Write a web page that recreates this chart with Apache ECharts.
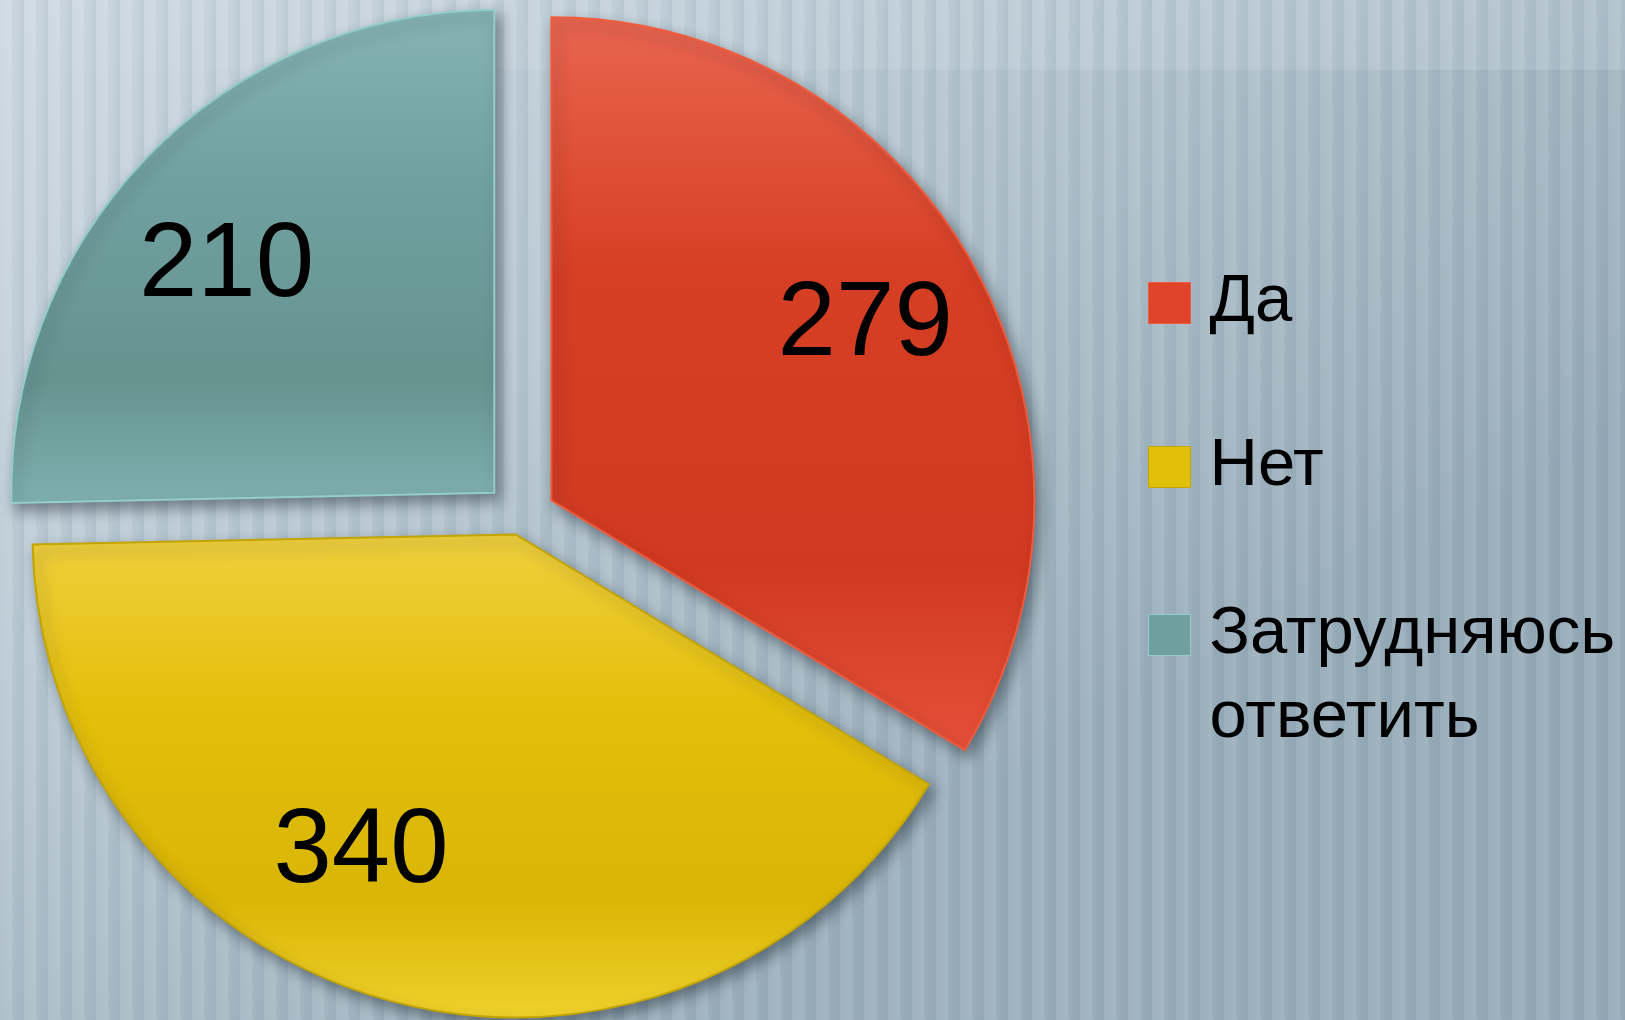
<!DOCTYPE html>
<html>
<head>
<meta charset="utf-8">
<script src="https://cdn.jsdelivr.net/npm/echarts@6/dist/echarts.min.js"></script>
<style>
  html, body { margin: 0; padding: 0; }
  #chart { width: 1625px; height: 1020px; }
</style>
</head>
<body>
<div id="chart"></div>
<script>
// data
const categories = ['Да', 'Нет', 'Затрудняюсь ответить'];
const values = [279, 340, 210];

// look
const sliceColors = [
  ['#e9654f', '#d63f24', '#d13a20', '#e4503a'],
  ['#efcf3e', '#e4c00c', '#d9b505', '#efd12c'],
  ['#86b4b4', '#70a0a0', '#65948f', '#7fb0b0']
];
const borderColors = ['#f25a3c', '#c4a400', '#95cccc'];
const iconColors = ['#dd4429', '#e2c00a', '#6f9f9f'];
const labelNudge = [[2, 2], [-62, -27], [-12, 25]]; // powerpoint doesn't put labels on the bisector
const R = 483;
const CENTER = [520, 518];

const chart = echarts.init(document.getElementById('chart'));

// striped background
function makeBackground(w, h) {
  const c = document.createElement('canvas');
  c.width = w; c.height = h;
  const ctx = c.getContext('2d');
  const g = ctx.createLinearGradient(0, 0, w * 0.35, h);
  g.addColorStop(0, '#cdd9e1');
  g.addColorStop(0.5, '#b9c9d3');
  g.addColorStop(1, '#9db1be');
  ctx.fillStyle = g;
  ctx.fillRect(0, 0, w, h);
  // darker patch upper right
  const g2 = ctx.createLinearGradient(0, 0, w, 0);
  g2.addColorStop(0, 'rgba(120,145,160,0)');
  g2.addColorStop(0.7, 'rgba(120,145,160,0.12)');
  g2.addColorStop(1, 'rgba(120,145,160,0.22)');
  ctx.fillStyle = g2;
  ctx.fillRect(0, 70, w, h);
  for (let x = 0; x < w; x += 24) {
    const sg = ctx.createLinearGradient(x, 0, x + 24, 0);
    sg.addColorStop(0, 'rgba(255,255,255,0.04)');
    sg.addColorStop(0.45, 'rgba(255,255,255,0.11)');
    sg.addColorStop(0.65, 'rgba(90,115,130,0.04)');
    sg.addColorStop(1, 'rgba(90,115,130,0.10)');
    ctx.fillStyle = sg;
    ctx.fillRect(x, 0, 24, h);
  }
  return c;
}

function sliceStyle(i) {
  const s = sliceColors[i];
  return {
    color: new echarts.graphic.LinearGradient(0, 0, 0, 1, [
      { offset: 0, color: s[0] },
      { offset: 0.35, color: s[1] },
      { offset: 0.75, color: s[2] },
      { offset: 1, color: s[3] }
    ]),
    borderColor: borderColors[i],
    borderWidth: 2,
    shadowBlur: 14,
    shadowOffsetX: 5,
    shadowOffsetY: 7,
    shadowColor: 'rgba(20,30,40,0.45)'
  };
}

const hidden = { color: 'transparent', borderWidth: 0, shadowBlur: 0, shadowColor: 'transparent' };

// one series per explode distance; items of other groups stay invisible
function pieSeries(visible, offset, labelOnly) {
  return {
    type: 'pie',
    center: CENTER,
    radius: labelOnly ? [R * 0.47, R] : [0, R],
    startAngle: 90,
    clockwise: true,
    selectedMode: 'multiple',
    selectedOffset: offset,
    silent: true,
    animation: false,
    labelLine: { show: false },
    labelLayout: p => ({ dx: labelNudge[p.dataIndex][0], dy: labelNudge[p.dataIndex][1] }),
    emphasis: { disabled: true },
    z: labelOnly ? 3 : 2,
    data: categories.map((name, i) => ({
      name: name,
      value: values[i],
      selected: true,
      itemStyle: (!labelOnly && visible.includes(i)) ? sliceStyle(i) : hidden,
      label: {
        show: labelOnly && visible.includes(i),
        position: 'inside',
        formatter: '{c}',
        color: '#000',
        fontSize: 105,
        fontFamily: 'Liberation Sans'
      }
    }))
  };
}

chart.setOption({
  backgroundColor: { image: makeBackground(1625, 1020), repeat: 'no-repeat' },
  legend: {
    orient: 'vertical',
    left: 1148,
    top: 181,
    padding: 0,
    itemGap: 0,
    itemWidth: 42,
    itemHeight: 41,
    icon: 'rect',
    selectedMode: false,
    // blank first line keeps the icon level with the first line of a wrapped name
    formatter: name => name.includes(' ') ? '\n' + name.replace(' ', '\n') : name,
    textStyle: { fontSize: 67, lineHeight: 84, color: '#000', fontFamily: 'Liberation Sans' },
    data: categories.map((name, i) => ({
      name: name,
      itemStyle: { color: iconColors[i], borderColor: borderColors[i], borderWidth: 1 },
      textStyle: { padding: [[80, 0, 80, 14], [0, 0, 0, 14], [0, 0, 0, 14]][i] }
    }))
  },
  series: [
    pieSeries([0, 2], 36, false),
    pieSeries([1], 17, false),
    pieSeries([0, 2], 36, true),
    pieSeries([1], 17, true)
  ]
});
</script>
</body>
</html>
